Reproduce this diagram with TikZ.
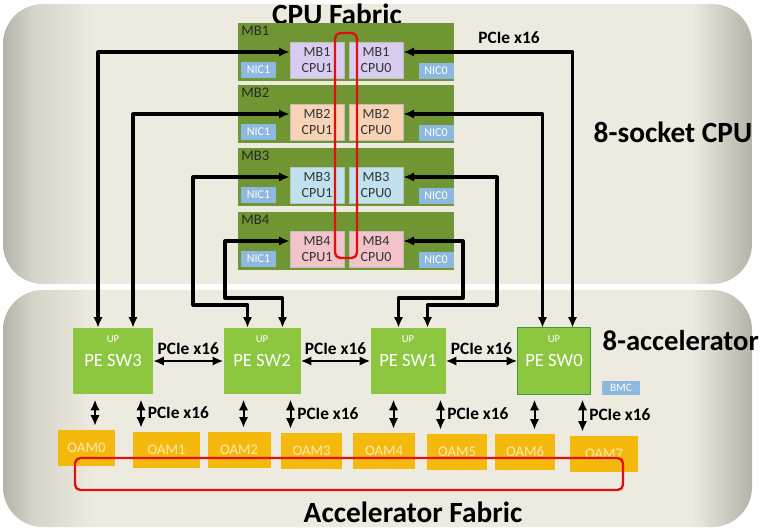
\documentclass[tikz,border=0pt]{standalone}
\usepackage{fontspec}
\setmainfont{Carlito}
\usetikzlibrary{arrows.meta,calc}

\newcommand{\pxu}{0.75pt}

\definecolor{pnlDark}{RGB}{181,179,168}
\definecolor{pnlMid}{RGB}{214,212,201}
\definecolor{pnlLight}{RGB}{237,235,224}
\definecolor{boardgreen}{RGB}{112,150,52}
\definecolor{cpuA}{RGB}{216,204,240}
\definecolor{cpuB}{RGB}{249,211,181}
\definecolor{cpuC}{RGB}{191,226,238}
\definecolor{cpuD}{RGB}{242,195,200}
\definecolor{nicblue}{RGB}{141,184,224}
\definecolor{swgreen}{RGB}{141,199,63}
\definecolor{swedge}{RGB}{60,154,60}
\definecolor{oamyel}{RGB}{245,185,14}
\definecolor{oamtxt}{RGB}{251,233,181}
\definecolor{fabred}{RGB}{224,16,16}

\pgfdeclarehorizontalshading{panelshade}{100bp}{color(0bp)=(pnlDark); color(25bp)=(pnlDark); color(27bp)=(pnlMid); color(31bp)=(pnlLight); color(71bp)=(pnlLight); color(75bp)=(pnlDark); color(100bp)=(pnlDark)}

\begin{document}
\begin{tikzpicture}[
		x=\pxu, y=-\pxu,
		line join=round,
		>={Latex[length=8pt,width=7pt]},
		board/.style={fill=boardgreen, minimum width=216*\pxu, minimum height=58*\pxu, inner sep=0},
		cpu/.style={draw=black!25, line width=0.5pt, minimum width=54*\pxu, minimum height=36*\pxu,
			inner sep=0, align=center, text=black!80, font=\fontsize{10.5}{12.5}\selectfont},
		nic/.style={fill=nicblue, text=white, minimum width=35*\pxu, minimum height=16*\pxu,
			inner sep=0, font=\fontsize{9}{10}\selectfont},
		sw/.style={fill=swgreen, minimum height=66*\pxu, inner sep=0, text=white,
			font=\fontsize{14}{16}\selectfont},
		oam/.style={fill=oamyel, minimum height=36*\pxu, inner sep=0, text=oamtxt,
			font=\fontsize{11}{12}\selectfont},
		link/.style={<->, line width=2.3pt},
		hlink/.style={<->, line width=1.5pt},
		vlink/.style={<->, line width=1.5pt, shorten <=4pt, shorten >=3pt},
		lbl/.style={font=\bfseries\fontsize{13}{15}\selectfont},
		title/.style={font=\bfseries\fontsize{22}{24}\selectfont},
		fabric/.style={draw=fabred, line width=1.8pt, rounded corners=4pt}
	]
	
	\useasboundingbox (0,0) rectangle (762,530);
	
	% Panels
	\shade[shading=panelshade, rounded corners=30pt] (3,4) rectangle (752,284);
	\shade[shading=panelshade, rounded corners=30pt] (3,290) rectangle (752,527);
	
	% Titles
	\node[title] (cpufab) at (337,14) {CPU Fabric};
	\node[title, anchor=west] (socket) at (589,132) {8-socket CPU};
	\node[title, anchor=west, font=\bfseries\fontsize{21.5}{24}\selectfont] (accel) at (598,341) {8-accelerator};
	\node[title] (accfab) at (413,512) {Accelerator Fabric};
	
	% Boards
	\foreach \i/\t/\c in {1/23/cpuA, 2/85/cpuB, 3/148/cpuC, 4/212/cpuD}{
		\node[board] (mb\i) at (346,\t+29) {};
		\node[anchor=north west, inner sep=0, text=black!85, font=\fontsize{11}{12}\selectfont] (mbl\i) at (241,\t+3) {MB\i};
		\node[nic] (nica\i) at (258.5,\t+47) {NIC1};
		\node[nic] (nicb\i) at (436,\t+48) {NIC0};
		\node[cpu, fill=\c] (mb\i c1) at (317,\t+37) {MB\i\\CPU1};
		\node[cpu, fill=\c] (mb\i c0) at (376,\t+37) {MB\i\\CPU0};
	}
	
	% Switches
	\foreach \n/\x/\w in {3/113/80, 2/262/77, 1/408/75, 0/554/73}{
		\node[sw, minimum width=\w*\pxu] (sw\n) at (\x,361) {PE SW\n};
		\node[text=white, inner sep=0, font=\fontsize{8}{9}\selectfont] (up\n) at (\x,339) {UP};
	}
	\draw[swedge, line width=1pt] (sw0.south west) rectangle (sw0.north east);
	\node[nic, minimum width=38*\pxu, minimum height=14*\pxu, font=\fontsize{8.5}{9}\selectfont] (bmc) at (621,388) {BMC};
	
	% OAMs
	\foreach \k/\x/\y/\w in {0/86.5/448/57, 1/166.5/450/67, 2/239/450/63, 3/311.5/451/61,
		4/384/451/62, 5/457/452/60, 6/525/452/60, 7/604/454/68}{
		\node[oam, minimum width=\w*\pxu] (oam\k) at (\x,\y) {OAM\k};
	}
	
	% Switch to switch
	\foreach \a/\b in {3/2, 2/1, 1/0}{
		\draw[hlink] (sw\a) -- node[lbl, above=1pt] (pl\a) {PCIe x16} (sw\b);
	}
	
	% Switch to OAM
	\foreach \n/\dl/\dr/\oa/\ob in {3/-18/28/0/1, 2/-18.5/28.5/2/3, 1/-14.5/32.5/4/5, 0/-19.5/28.5/6/7}{
		\coordinate (dl\n) at ($(sw\n.south)+(\dl,0)$);
		\coordinate (dr\n) at ($(sw\n.south)+(\dr,0)$);
		\draw[vlink] (dl\n) -- (dl\n |- oam\oa.north);
		\draw[vlink] (dr\n) -- node[lbl, right=1pt] (vl\n) {PCIe x16} (dr\n |- oam\ob.north);
	}
	
	% CPU to switch
	\coordinate (t3a) at ($(sw3.north)+(-15,0)$);
	\coordinate (t3b) at ($(sw3.north)+(20,0)$);
	\coordinate (t2a) at ($(sw2.north)+(-14.5,0)$);
	\coordinate (t2b) at ($(sw2.north)+(20.5,0)$);
	\coordinate (t1a) at ($(sw1.north)+(-9.5,0)$);
	\coordinate (t1b) at ($(sw1.north)+(19.5,0)$);
	\coordinate (t0a) at ($(sw0.north)+(-11.5,0)$);
	\coordinate (t0b) at ($(sw0.north)+(18.5,0)$);
	\coordinate (k3) at (193,305);
	\coordinate (k4) at (225,298);
	\coordinate (k5) at (497,305);
	\coordinate (k6) at (463,298);
	
	\draw[link] (mb1c1.west |- mb1) -| (t3a);
	\draw[link] (mb2c1.west |- mb2) -| (t3b);
	\draw[link] (mb3c1.west |- mb3) -| (k3) -| (t2a);
	\draw[link] (mb4c1.west |- mb4) -| (k4) -| (t2b);
	\draw[link] (mb1c0.east |- mb1) -| (t0b);
	\draw[link] (mb2c0.east |- mb2) -| (t0a);
	\draw[link] (mb3c0.east |- mb3) -| (k5) -| (t1b);
	\draw[link] (mb4c0.east |- mb4) -| (k6) -| (t1a);
	\node[lbl] (pcitop) at (509,38) {PCIe x16};
	
	% Fabrics
	\draw[fabric] (335,33) rectangle (357,258);
	\draw[fabric] (75,458) rectangle (623,490);
	
\end{tikzpicture}
\end{document}
